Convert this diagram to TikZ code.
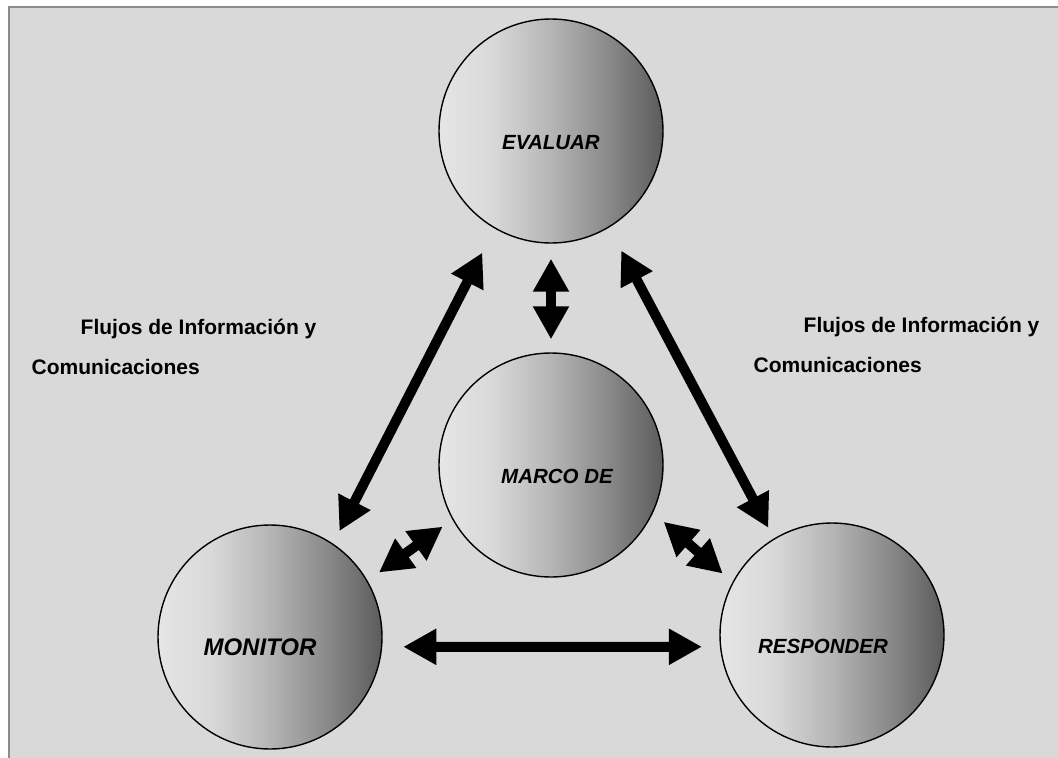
\documentclass[tikz,border=0pt]{standalone}
\usepackage{fontspec}
\setmainfont{Liberation Sans}
\usetikzlibrary{arrows.meta}

\definecolor{panelgray}{HTML}{D9D9D9}
\definecolor{framegray}{HTML}{8C8C8C}
\pgfdeclarehorizontalshading{ballshade}{100bp}{rgb(0bp)=(0.90,0.90,0.90); rgb(25bp)=(0.90,0.90,0.90); rgb(37bp)=(0.85,0.85,0.85); rgb(50bp)=(0.71,0.71,0.71); rgb(62bp)=(0.55,0.55,0.55); rgb(75bp)=(0.36,0.36,0.36); rgb(100bp)=(0.36,0.36,0.36)}

\begin{document}
\begin{tikzpicture}[x=1pt, y=-1pt,
    ball/.style={circle, draw=black, line width=1.4pt, shading=ballshade,
                 minimum size=224pt, inner sep=0pt, text height=37pt, text depth=0pt,
                 font=\fontsize{20.5}{24}\selectfont\bfseries\itshape},
    flow/.style={anchor=base west, inner sep=0pt, font=\fontsize{21}{25}\selectfont\bfseries},
    dbl/.style={{Triangle[length=33pt,width=34pt]}-{Triangle[length=33pt,width=34pt]}, line width=10pt},
]
\useasboundingbox (0,0) rectangle (1058,758);
\fill[white] (0,0) rectangle (1058,758);
\draw[framegray, line width=2.5pt, fill=panelgray] (9,7) rectangle (1075,775);

\node[ball] (ev) at (551,131) {EVALUAR};
\node[ball] (ma) at (551,465) {\kern12pt MARCO DE};
\node[ball, font=\fontsize{24}{28}\selectfont\bfseries\itshape] (mo) at (270,637) {\kern-20pt MONITOR};
\node[ball] (re) at (832,635) {\kern-18pt RESPONDER};

\node[flow] (fluL) at (80.5,334.5) {Flujos de Información y};
\node[flow] (comL) at (31.5,374.5) {Comunicaciones};
\node[flow] (fluR) at (803.5,332.5) {Flujos de Información y};
\node[flow] (comR) at (753.5,372.5) {Comunicaciones};

\draw[dbl, shorten <=27pt, shorten >=14pt] (ev.240) -- (mo.56);
\draw[dbl, shorten <=26pt, shorten >=12pt] (ev.301) -- (re.121);
\draw[dbl, shorten <=15pt, shorten >=13pt] (ev.south) -- (ma.north);
\draw[dbl, shorten <=12pt, shorten >=14pt] (ma.209) -- (mo.30);
\draw[dbl, shorten <=14pt, shorten >=13pt] (ma.-25) -- (re.152);
\draw[dbl, shorten <=21pt, shorten >=18pt] (mo.-5) -- (re.186);
\end{tikzpicture}
\end{document}
